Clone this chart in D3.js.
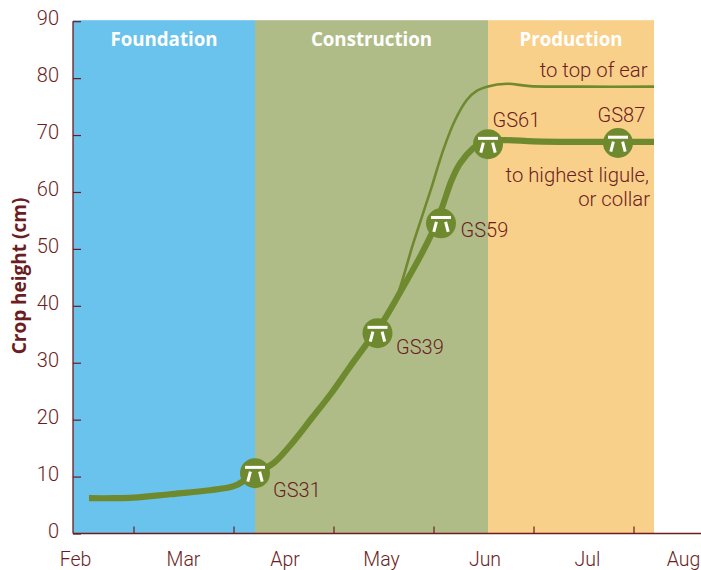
<!DOCTYPE html>
<html><head><meta charset="utf-8">
<script src="https://cdn.jsdelivr.net/npm/d3@7"></script>
<style>
html,body{margin:0;padding:0;background:#fff}
svg{display:block}
text{font-family:Roboto,sans-serif}
.b{font-family:"Open Sans",sans-serif}
</style></head><body><svg id="c" width="701" height="570"></svg>
<script>
// x values are month units: 1 = first tick on the axis, ticks one month apart
const phases = ["Foundation","Construction","Production"];
const phaseStart = [0.395,2.215,4.545];
const phaseEnd = [2.215,4.545,6.205];
const phaseColors = ["#69c3ec","#b0bc88","#f9d08a"];
const yTicks = [0,10,20,30,40,50,60,70,80,90];
const xTicks = [1,2,3,4,5,6];
const months = ["Feb","Mar","Apr","May","Jun","Jul","Aug"];
const monthPos = [0.42,1.5,2.515,3.48,4.515,5.54,6.5];
const ligT = [0.555,0.8,1.0,1.365,1.765,2.015,2.215,2.398,2.598,2.782,2.965,3.165,3.348,3.515,3.698,3.865,3.982,4.082,4.182,4.265,4.398,4.495,4.7,5.0,5.5,5.845,6.205];
const ligH = [6.2,6.2,6.3,6.9,7.6,8.4,10.6,12.33,16.13,20.24,24.33,29.3,33.7,37.8,43.36,48.6,52.7,57.1,62.1,65.0,67.7,68.8,69.1,68.9,68.8,68.8,68.8];
const earT = [3.515,3.632,3.798,3.982,4.098,4.215,4.335,4.435,4.535,4.735,4.965,5.5,6.205];
const earH = [37.8,41.6,51.0,60.9,67.4,72.6,76.2,77.8,78.5,79.0,78.6,78.5,78.5];
const stageNames = ["GS31","GS39","GS59","GS61","GS87"];
const stageT = [2.215,3.44,4.075,4.545,5.845];
const stageH = [10.6,35.2,54.5,68.4,68.6];
const stageLabelT = [2.395,3.625,4.27,4.59,5.64];
const stageLabelH = [6.46,31.5,52.1,71.4,72.3];

const ink = "#6b1d22", green = "#6f8a2e";
const svg = d3.select("#c");
const x = d3.scaleLinear().domain([0.395,6.675]).range([73,701]);
const y = d3.scaleLinear().domain([0,90]).range([533.5,21.2]);

svg.append("g").selectAll("rect").data(phases).join("rect")
  .attr("x",(d,i)=>x(phaseStart[i])).attr("width",(d,i)=>x(phaseEnd[i])-x(phaseStart[i]))
  .attr("y",y(90)-1).attr("height",y(0)-y(90)+1).attr("fill",(d,i)=>phaseColors[i]);
svg.append("g").selectAll("text").data(phases).join("text").attr("class","b")
  .attr("x",(d,i)=>(x(phaseStart[i])+x(phaseEnd[i]))/2).attr("y",y(90)+25)
  .attr("text-anchor","middle").attr("fill","#fff").attr("font-weight",700).attr("font-size",18.7).text(d=>d);

const line = d3.line().curve(d3.curveCatmullRom.alpha(0.5));
const ligPts = ligT.map((t,i)=>[x(t),y(ligH[i])]);
const earPts = earT.map((t,i)=>[x(t),y(earH[i])]);
svg.append("path").attr("d",line(earPts)).attr("fill","none").attr("stroke",green).attr("stroke-width",2.6);
svg.append("path").attr("d",line(ligPts)).attr("fill","none").attr("stroke",green).attr("stroke-width",6.2);

const yAxis = d3.axisLeft(y).tickValues(yTicks).tickSize(-8).tickPadding(0).tickFormat("");
const gy = svg.append("g").attr("transform","translate(73,0)").call(yAxis);
const xAxis = d3.axisBottom(x).tickValues(xTicks).tickSize(-7).tickFormat("");
const gx = svg.append("g").attr("transform","translate(0,533.5)").call(xAxis);
[gy,gx].forEach(g=>{g.selectAll("line").attr("stroke",ink).attr("stroke-width",1.2);
  g.select(".domain").attr("stroke",ink).attr("stroke-width",1.3);});
gy.select(".domain").attr("d","M0,"+y(90)+"V"+y(0));
gx.select(".domain").attr("d","M73,0H701");

svg.append("g").selectAll("text").data(yTicks).join("text")
  .attr("x",59).attr("y",d=>y(d)+4).attr("text-anchor","end").attr("fill",ink).attr("font-weight",300).attr("font-size",20).text(d=>d);
svg.append("g").selectAll("text").data(months).join("text")
  .attr("x",(d,i)=>x(monthPos[i])).attr("y",566).attr("text-anchor","middle").attr("fill",ink).attr("font-weight",300).attr("font-size",19.5).text(d=>d);
svg.append("text").attr("class","b").attr("transform","translate(25.5,276) rotate(-90)").attr("text-anchor","middle")
  .attr("fill",ink).attr("font-weight",700).attr("font-size",19).text("Crop height (cm)");

const st = svg.append("g").selectAll("g").data(stageNames).join("g")
  .attr("transform",(d,i)=>`translate(${x(stageT[i])},${y(stageH[i])})`);
st.append("circle").attr("r",15).attr("fill",green);
st.append("rect").attr("x",-10).attr("y",-7.3).attr("width",20).attr("height",3).attr("fill","#fff");
st.append("path").attr("d","M-4.6,-1.5L-7.2,8.5M4.6,-1.5L7.2,8.5").attr("stroke","#fff").attr("stroke-width",3).attr("fill","none");
svg.append("g").selectAll("text").data(stageNames).join("text")
  .attr("x",(d,i)=>x(stageLabelT[i])).attr("y",(d,i)=>y(stageLabelH[i])).attr("fill",ink).attr("font-weight",300).attr("font-size",20).text(d=>d);

const notes = [["to top of ear",647.5,76.7],["to highest ligule,",649,181.7],["or collar",650,205.7]];
svg.append("g").selectAll("text").data(notes).join("text")
  .attr("x",d=>d[1]).attr("y",d=>d[2]).attr("text-anchor","end").attr("fill",ink).attr("font-weight",300).attr("font-size",20.3).text(d=>d[0]);
</script></body></html>
